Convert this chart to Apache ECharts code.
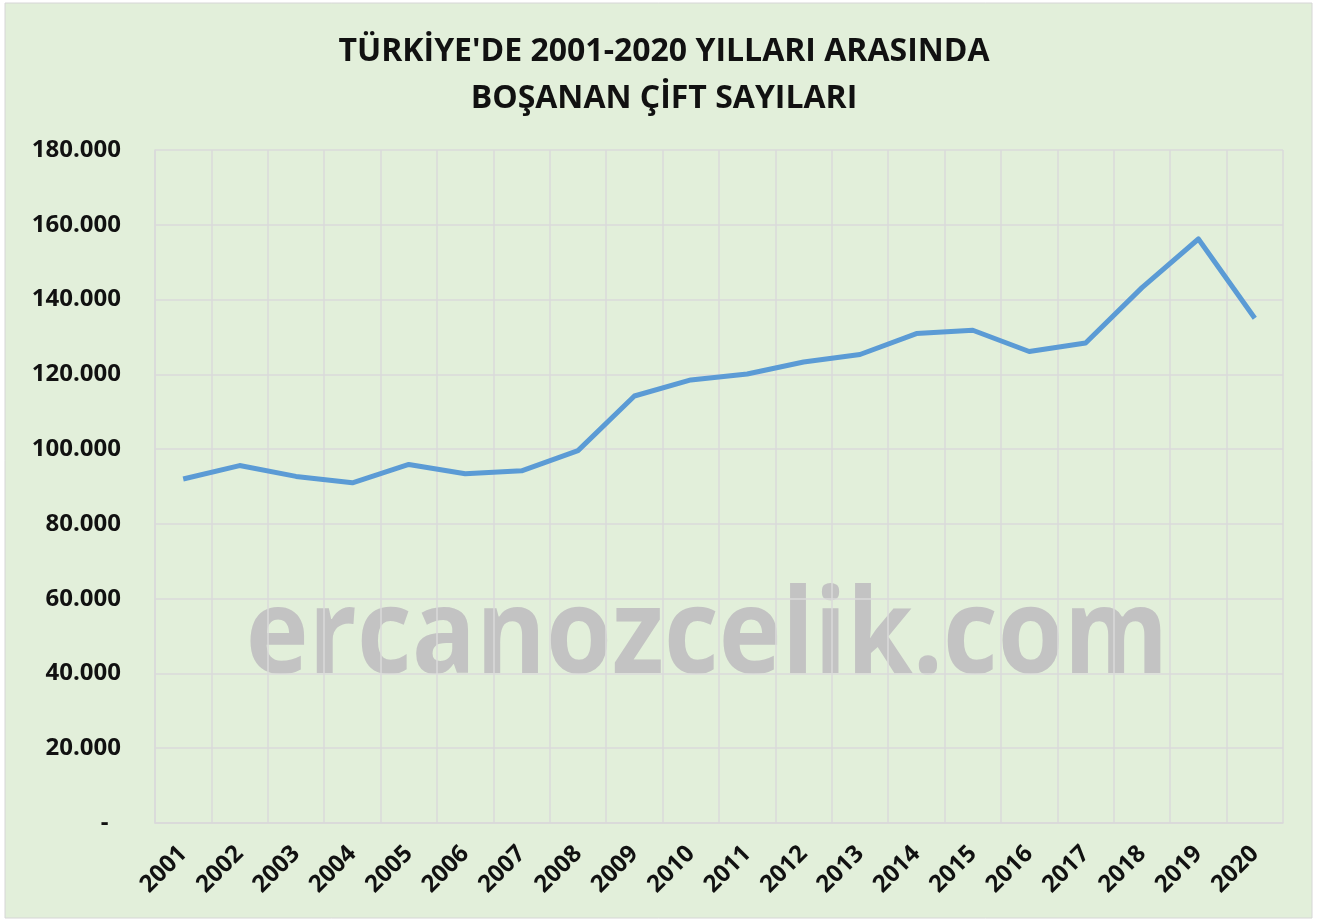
<!DOCTYPE html>
<html>
<head>
<meta charset="utf-8">
<title>Boşanan Çift Sayıları</title>
<script src="https://cdn.jsdelivr.net/npm/echarts@6/dist/echarts.min.js"></script>
<style>
    html, body { margin: 0; padding: 0; background: #ffffff; }
    #main { width: 1328px; height: 922px; }
</style>
</head>
<body>
<div id="main"></div>
<script>
// veriler
var years = ['2001','2002','2003','2004','2005','2006','2007','2008','2009','2010',
             '2011','2012','2013','2014','2015','2016','2017','2018','2019','2020'];
var divorces = [92000, 95600, 92700, 91000, 95900, 93400, 94200, 99600, 114200, 118500,
                120100, 123300, 125300, 130900, 131800, 126100, 128400, 143200, 156200, 135000];
var yTicks = [0, 20000, 40000, 60000, 80000, 100000, 120000, 140000, 160000, 180000];

var chartFont = '"Open Sans", "Noto Sans", sans-serif';

// excel muhasebe bicimi: 0 -> "-", binlik ayirici nokta
function formatNumber(v) {
    if (v == 0) return '-  ';
    return String(v).replace(/\B(?=(\d{3})+(?!\d))/g, '.');
}

var myChart = echarts.init(document.getElementById('main'));

var option = {
    backgroundColor: '#ffffff',
    animation: false,
    title: {
        text: "TÜRKİYE'DE 2001-2020 YILLARI ARASINDA\nBOŞANAN ÇİFT SAYILARI",
        left: 'center',
        top: 23,
        textStyle: {
            fontFamily: chartFont,
            fontSize: 32,
            fontWeight: 'bold',
            color: '#111111',
            lineHeight: 47
        }
    },
    graphic: [
        {
            type: 'rect',
            z: -10,
            silent: true,
            shape: { x: 5, y: 3, width: 1307, height: 915 },
            style: { fill: '#e2efda', stroke: '#d6d6d6', lineWidth: 1 }
        },
        {
            // filigran
            type: 'text',
            z: 0,
            silent: true,
            x: 707,
            y: 580,
            scaleX: 0.895,
            style: {
                x: 0,
                y: 0,
                text: 'ercanozcelik.com',
                align: 'center',
                verticalAlign: 'top',
                fontFamily: chartFont,
                fontSize: 119,
                fontWeight: 'bold',
                fill: '#c3c3c3'
            }
        }
    ],
    grid: {
        left: 155,
        right: 45,
        top: 150,
        bottom: 99
    },
    xAxis: {
        type: 'category',
        data: years,
        boundaryGap: true,
        axisLine: { show: true, lineStyle: { color: '#d9d9d9', width: 1.5 } },
        axisTick: { show: false },
        splitLine: { show: true, interval: 0, lineStyle: { color: '#dadada', width: 1.5 } },
        axisLabel: {
            interval: 0,
            rotate: 45,
            margin: 27,
            fontFamily: chartFont,
            fontSize: 24,
            fontWeight: 'bold',
            color: '#111111'
        }
    },
    yAxis: {
        type: 'value',
        min: yTicks[0],
        max: yTicks[yTicks.length - 1],
        interval: 20000,
        axisLine: { show: true, lineStyle: { color: '#dadada', width: 1.5 } },
        axisTick: { show: false },
        splitLine: { show: true, lineStyle: { color: '#dadada', width: 1.5 } },
        axisLabel: {
            margin: 34,
            fontFamily: chartFont,
            fontSize: 24,
            fontWeight: 'bold',
            color: '#111111',
            formatter: formatNumber
        }
    },
    series: [{
        name: 'Boşanan çift',
        type: 'line',
        data: divorces,
        symbol: 'none',
        z: 5,
        lineStyle: { color: '#5b9bd5', width: 5, join: 'round' }
    }]
};

myChart.setOption(option);
</script>
</body>
</html>
